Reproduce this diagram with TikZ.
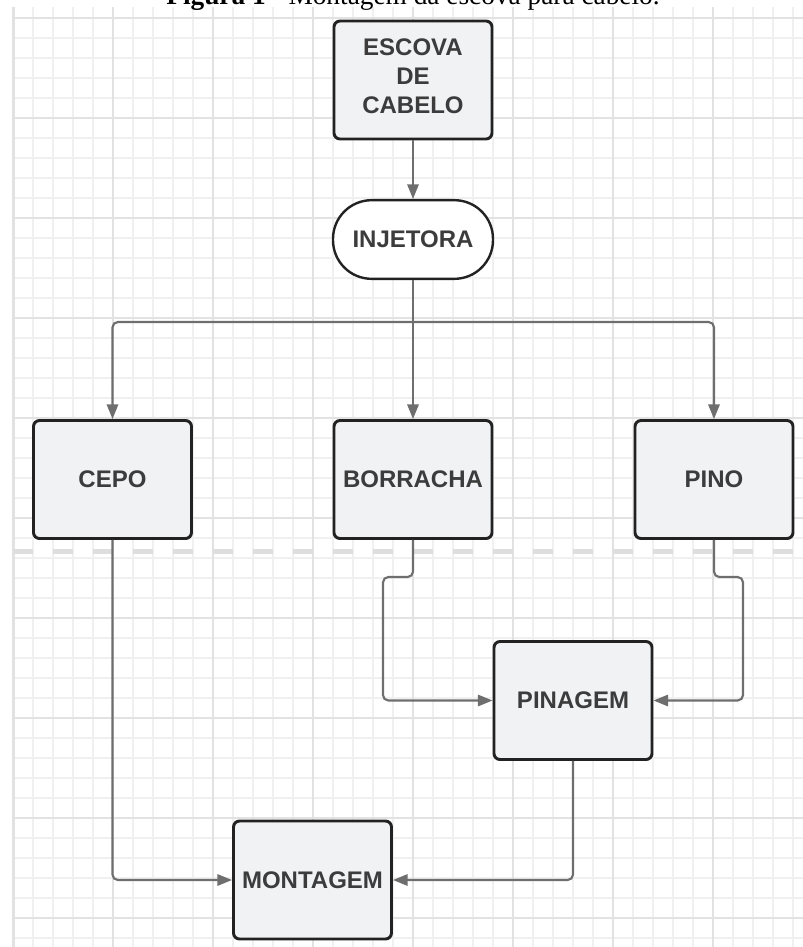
\documentclass[tikz,border=0pt]{standalone}
\usepackage{fontspec}
\setmainfont{Liberation Serif}
\newfontfamily\lucidfont{Liberation Sans}
\usetikzlibrary{arrows.meta,positioning}
\definecolor{gridMinor}{RGB}{240,240,240}
\definecolor{gridMajor}{RGB}{226,226,226}
\definecolor{boxFill}{RGB}{241,242,244}
\definecolor{boxLine}{RGB}{34,34,34}
\definecolor{boxText}{RGB}{60,60,60}
\definecolor{connGray}{RGB}{110,110,110}
\definecolor{splitGray}{RGB}{222,222,222}

\begin{document}
\begin{tikzpicture}[x=0.75pt,y=-0.75pt,
    stepbox/.style={draw=boxLine, fill=boxFill, line width=2.2pt, rounded corners=4.5pt,
      minimum width=118.5pt, minimum height=88.5pt, inner sep=0pt, align=center,
      text=boxText, font=\lucidfont\bfseries\fontsize{18}{22}\selectfont},
    startbox/.style={stepbox, fill=white, rounded corners=29pt,
      minimum width=120pt, minimum height=59pt, line width=1.8pt},
    conn/.style={draw=connGray, line width=1.6pt, rounded corners=4pt,
      -{Triangle[length=11pt,width=8.5pt]}}]
  \useasboundingbox (0,0) rectangle (803,947);
  \clip (0,0) rectangle (803,947);
  % Grid (background)
  \begin{scope}
    \clip (13,7) rectangle (803,947);
    \foreach \gx in {13,33,...,803}
      \draw[gridMinor, line width=1.2pt] (\gx,7) -- (\gx,947);
    \foreach \gy in {18,38,...,947}
      \draw[gridMinor, line width=1.2pt] (13,\gy) -- (803,\gy);
    \foreach \gx in {113,213,...,713}
      \draw[gridMajor, line width=1.2pt] (\gx,7) -- (\gx,947);
    \foreach \gy in {18,118,...,918}
      \draw[gridMajor, line width=1.2pt] (13,\gy) -- (803,\gy);
  \end{scope}
  \draw[gridMajor, line width=2.25pt] (13,7) -- (13,947);
  % Dashed split line
  \draw[splitGray, line width=3.75pt, dash pattern=on 15pt off 15pt] (13,551.5) -- (803,551.5);
  % Caption (cut at the top)
  \node[font=\fontsize{20.5}{24}\selectfont, anchor=base, inner sep=0pt] (cap) at (413,4.5)
    {\textbf{Figura 1} - Montagem da escova para cabelo.};
  % Steps
  \node[stepbox, text depth=6pt] (esc) at (413,80) {ESCOVA\\DE\\CABELO};
  \node[startbox] (inj) at (413,239.5) {INJETORA};
  \node[stepbox] (cepo) at (112.5,479.5) {CEPO};
  \node[stepbox] (borr) at (413,479.5) {BORRACHA};
  \node[stepbox] (pino) at (714,479.5) {PINO};
  \node[stepbox] (ping) at (573,700.5) {PINAGEM};
  \node[stepbox] (mont) at (312.5,880) {MONTAGEM};
  % Connectors
  \coordinate (split) at (413,322);
  \coordinate (jogB) at (383,577);
  \coordinate (jogP) at (743,577);
  \draw[conn] (esc) -- (inj);
  \draw[conn] (inj) -- (borr);
  \draw[conn] (split) -| (cepo);
  \draw[conn] (split) -| (pino);
  \draw[conn] (borr) |- (jogB) |- (ping);
  \draw[conn] (pino) |- (jogP) |- (ping);
  \draw[conn] (cepo) |- (mont);
  \draw[conn] (ping) |- (mont);
\end{tikzpicture}
\end{document}
